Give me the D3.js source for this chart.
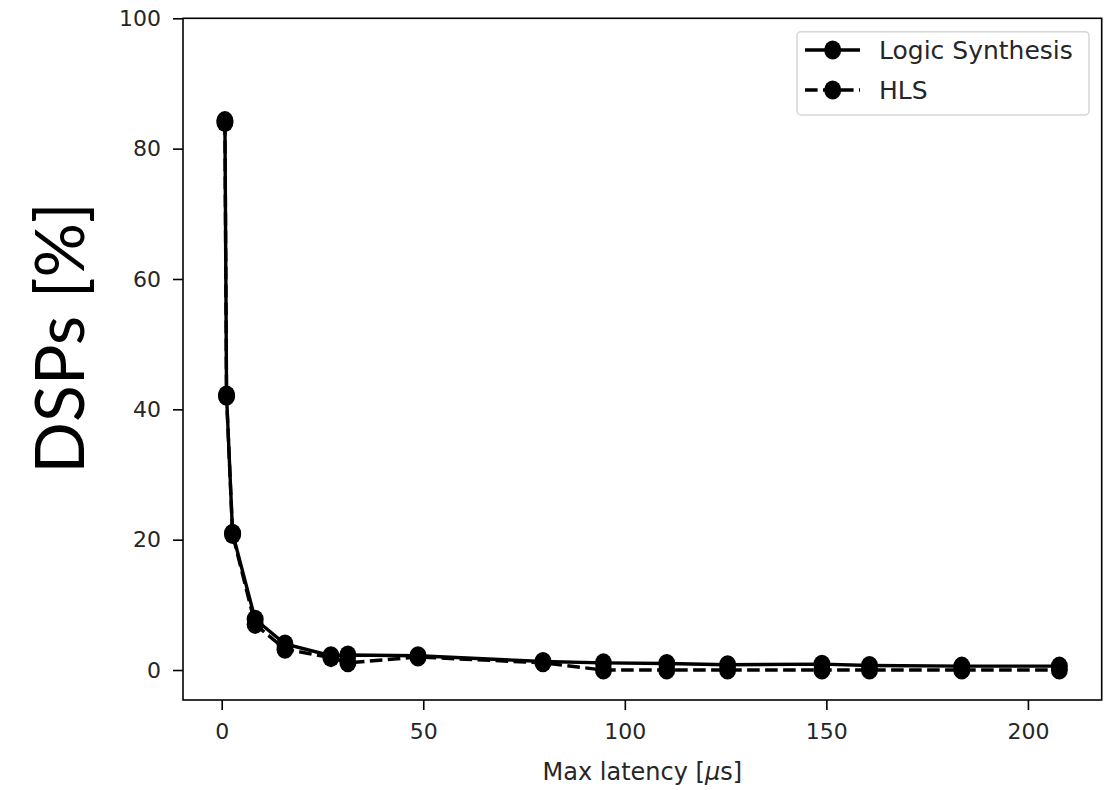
<!DOCTYPE html>
<html>
<head>
<meta charset="utf-8">
<script src="https://cdn.jsdelivr.net/npm/d3@7"></script>
<style>
  html, body { margin: 0; padding: 0; background: #fff; }
  svg { display: block; }
</style>
</head>
<body>
<svg id="chart" width="1113" height="790"></svg>
<script>
// ---- data ----
const latency = [0.8, 1.2, 2.7, 8.3, 15.7, 27.1, 31.3, 48.7, 79.7, 94.7, 110.4, 125.5, 148.9, 160.7, 183.6, 207.8];
const logicSynthesis = [84.3, 42.2, 21.0, 7.8, 4.0, 2.2, 2.3, 2.2, 1.3, 1.1, 1.0, 0.8, 0.9, 0.7, 0.6, 0.6];
const hls = [84.0, 42.0, 20.8, 7.0, 3.2, 1.9, 1.1, 2.0, 1.1, 0.0, 0.0, 0.0, 0.0, 0.0, 0.0, 0.0];
const xTicks = [0, 50, 100, 150, 200];
const yTicks = [0, 20, 40, 60, 80, 100];
const seriesNames = ["Logic Synthesis", "HLS"];

// ---- layout ----
const svg = d3.select("#chart");
const m = { left: 183, right: 1101.7, top: 18.3, bottom: 700 };
const x = d3.scaleLinear().domain([-9.6, 218.3]).range([m.left, m.right]);
const y = d3.scaleLinear().domain([-4.6, 100]).range([m.bottom, m.top]);

const tickFont = "'DejaVu Sans', sans-serif";

// axes
const xAxis = d3.axisBottom(x).tickValues(xTicks).tickSize(10).tickPadding(13).tickFormat(d3.format("d"));
const yAxis = d3.axisLeft(y).tickValues(yTicks).tickSize(10).tickPadding(12).tickFormat(d3.format("d"));

const gx = svg.append("g").attr("transform", `translate(0,${m.bottom})`).call(xAxis);
const gy = svg.append("g").attr("transform", `translate(${m.left},0)`).call(yAxis);
[gx, gy].forEach(g => {
  g.select(".domain").remove();
  g.selectAll(".tick line").attr("stroke", "#000").attr("stroke-width", 1.6);
  g.selectAll(".tick text").attr("fill", "#262626").style("font-family", tickFont).style("font-size", "22px");
});

// frame
svg.append("rect")
  .attr("x", m.left).attr("y", m.top)
  .attr("width", m.right - m.left).attr("height", m.bottom - m.top)
  .attr("fill", "none").attr("stroke", "#000").attr("stroke-width", 1.6);

// lines
const line = d3.line().x(d => x(d[0])).y(d => y(d[1]));
const lsData = latency.map((v, i) => [v, logicSynthesis[i]]);
const hlsData = latency.map((v, i) => [v, hls[i]]);

const plot = svg.append("g");
plot.append("path").datum(hlsData).attr("d", line)
  .attr("fill", "none").attr("stroke", "#000").attr("stroke-width", 3.4)
  .attr("stroke-dasharray", "12.6,5.4");
plot.selectAll(".mh").data(hlsData).enter().append("ellipse")
  .attr("cx", d => x(d[0])).attr("cy", d => y(d[1]))
  .attr("rx", 8.5).attr("ry", 9.5).attr("fill", "#000");

plot.append("path").datum(lsData).attr("d", line)
  .attr("fill", "none").attr("stroke", "#000").attr("stroke-width", 3.4);
plot.selectAll(".ml").data(lsData).enter().append("ellipse")
  .attr("cx", d => x(d[0])).attr("cy", d => y(d[1]))
  .attr("rx", 8.5).attr("ry", 9.5).attr("fill", "#000");

// axis labels
svg.append("text")
  .attr("x", (m.left + m.right) / 2).attr("y", 780)
  .attr("text-anchor", "middle")
  .style("font-family", tickFont).style("font-size", "24px").attr("fill", "#262626")
  .html("Max latency [<tspan font-style='italic'>μ</tspan>s]");

svg.append("text")
  .attr("transform", "translate(84,338) rotate(-90)")
  .attr("text-anchor", "middle")
  .style("font-family", "Lato, sans-serif").style("font-size", "68px").attr("fill", "#000")
  .text("DSPs [%]");

// legend
const lg = svg.append("g");
lg.append("rect").attr("x", 797).attr("y", 31.7).attr("width", 292).attr("height", 83.3)
  .attr("rx", 4).attr("fill", "#fff").attr("stroke", "#d6d6d6").attr("stroke-width", 1.5);
const legendRows = [
  { name: seriesNames[0], dash: null, yy: 50 },
  { name: seriesNames[1], dash: "12.6,5.4", yy: 90 }
];
legendRows.forEach(r => {
  lg.append("line").attr("x1", 805).attr("x2", 860).attr("y1", r.yy).attr("y2", r.yy)
    .attr("stroke", "#000").attr("stroke-width", 3.4)
    .attr("stroke-dasharray", r.dash);
  lg.append("ellipse").attr("cx", 832.7).attr("cy", r.yy).attr("rx", 8.5).attr("ry", 9.5).attr("fill", "#000");
  lg.append("text").attr("x", 879).attr("y", r.yy).attr("dy", "0.36em")
    .style("font-family", tickFont).style("font-size", "25px").attr("fill", "#262626")
    .text(r.name);
});
</script>
</body>
</html>
